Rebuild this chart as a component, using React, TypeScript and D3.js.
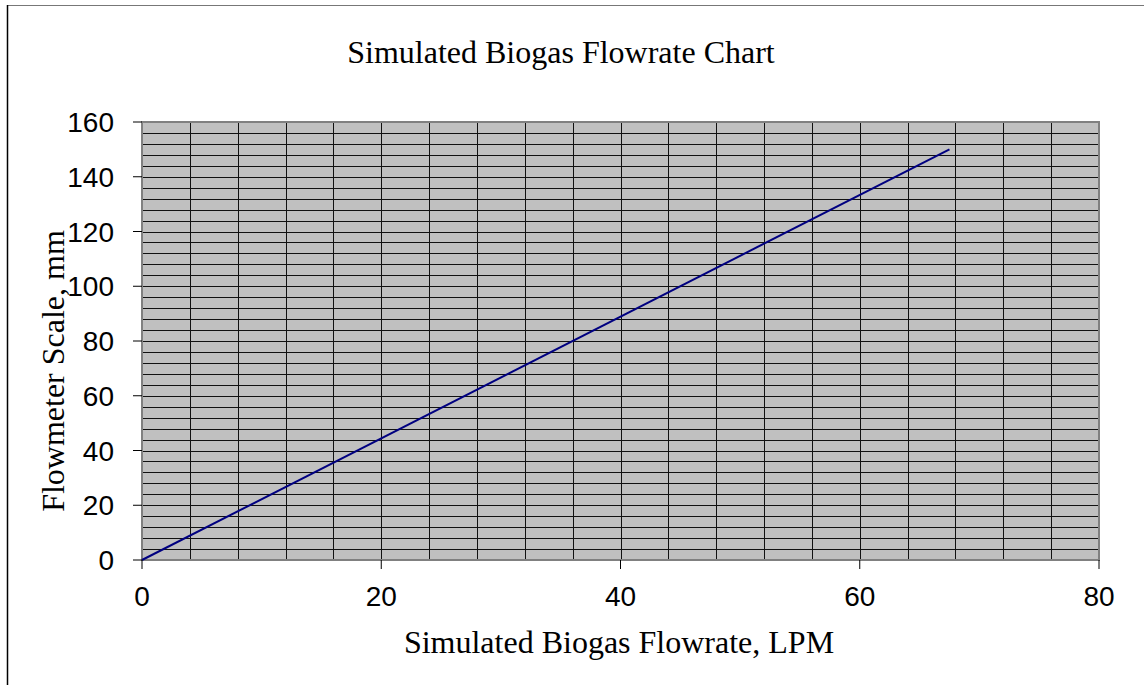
import React from "react";
import * as d3 from "d3";

const flowrateLPM: number[] = [0, 67.5];
const scaleMM: number[] = [0, 150];
const xTicks: number[] = [0, 20, 40, 60, 80];
const yTicks: number[] = [0, 20, 40, 60, 80, 100, 120, 140, 160];
const title = "Simulated Biogas Flowrate Chart";
const xTitle = "Simulated Biogas Flowrate, LPM";
const yTitle = "Flowmeter Scale, mm";

export default function App() {
  const W = 1144, H = 685;
  const left = 142, right = 1099, top = 122, bottom = 560;
  const x = d3.scaleLinear().domain([0, 80]).range([left, right]);
  const y = d3.scaleLinear().domain([0, 160]).range([bottom, top]);
  const xGrid = d3.range(4, 80, 4);
  const yGrid = d3.range(4, 160, 4);
  const line = d3.line<number>().x((_, i) => x(flowrateLPM[i])).y((d) => y(d));
  const serif = "'Liberation Serif', 'Times New Roman', serif";
  const sans = "'Liberation Sans', Arial, sans-serif";
  return (
    <svg width={W} height={H} style={{ position: "absolute", left: 0, top: 0, background: "#fff" }}>
      <line x1={7} y1={5.5} x2={W} y2={5.5} stroke="#777" strokeWidth={1} />
      <line x1={7.5} y1={5} x2={7.5} y2={H} stroke="#000" strokeWidth={1.5} />
      <text x={561} y={63} textAnchor="middle" fontFamily={serif} fontSize={32} fill="#000">{title}</text>
      <rect x={left} y={top} width={right - left} height={bottom - top} fill="#c0c0c0" />
      {yGrid.map((v) => (
        <line key={"h" + v} x1={left} x2={right} y1={Math.round(y(v)) + 0.5} y2={Math.round(y(v)) + 0.5} stroke="#111" strokeWidth={1} />
      ))}
      {xGrid.map((v) => (
        <line key={"v" + v} x1={Math.round(x(v)) + 0.5} x2={Math.round(x(v)) + 0.5} y1={top} y2={bottom} stroke="#111" strokeWidth={1} />
      ))}
      <rect x={left} y={top} width={right - left} height={bottom - top} fill="none" stroke="#808080" strokeWidth={2} />
      <path d={line(scaleMM) || ""} fill="none" stroke="#000080" strokeWidth={2} />
      {yTicks.map((v) => (
        <g key={"yt" + v}>
          <line x1={left - 9} x2={left} y1={y(v)} y2={y(v)} stroke="#000" strokeWidth={1} />
          <text x={left - 28} y={y(v) + 10} textAnchor="end" fontFamily={sans} fontSize={28} fill="#000">{v}</text>
        </g>
      ))}
      {xTicks.map((v) => (
        <g key={"xt" + v}>
          <line x1={x(v)} x2={x(v)} y1={bottom} y2={bottom + 9} stroke="#000" strokeWidth={1} />
          <text x={x(v)} y={606} textAnchor="middle" fontFamily={sans} fontSize={28} fill="#000">{v}</text>
        </g>
      ))}
      <text x={619} y={653} textAnchor="middle" fontFamily={serif} fontSize={32} fill="#000">{xTitle}</text>
      <text transform={`translate(64,371) rotate(-90)`} textAnchor="middle" fontFamily={serif} fontSize={32} fill="#000">{yTitle}</text>
    </svg>
  );
}
